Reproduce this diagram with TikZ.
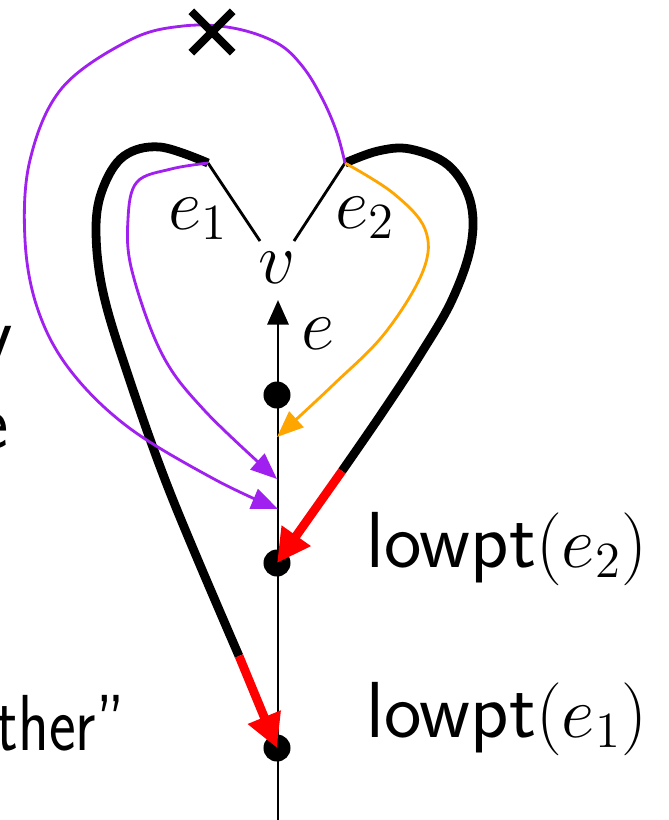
\documentclass[tikz,border=0pt]{standalone}
\usetikzlibrary{arrows.meta}
\definecolor{mypurple}{RGB}{160,32,240}
\definecolor{myorange}{RGB}{255,165,0}
\begin{document}
\begin{tikzpicture}[x=0.01cm,y=-0.01cm,
  heartline/.style={line width=2.5pt},
  redarr/.style={red, line width=2.5pt, -{Triangle[length=9.5pt,width=9.5pt]}},
  parr/.style={mypurple, line width=0.8pt, -{Triangle[length=7.5pt,width=6pt]}},
  oarr/.style={myorange, line width=0.8pt, -{Triangle[length=7.5pt,width=6pt]}},
  thin/.style={line width=0.8pt},
  dot/.style={circle, fill=black, inner sep=0pt, minimum size=0.27cm},
  mlbl/.style={inner sep=0pt, font=\fontsize{22}{26}\selectfont},
  tlbl/.style={inner sep=0pt, font=\fontsize{22.6}{27}\selectfont\sffamily},
  cross/.style={line width=2.3pt}
]
\useasboundingbox (0,0) rectangle (669,820);

% key points
\coordinate (e1t) at (208,163);
\coordinate (e2t) at (345,163);
\coordinate (vl) at (260,241);
\coordinate (vr) at (294,241);
\coordinate (top) at (278,300);
\coordinate (bot) at (278,822);
\coordinate (L1) at (239,656);
\coordinate (R1) at (342,471);
\coordinate (P1) at (277,479);
\coordinate (P2) at (278,509);
\coordinate (O1) at (277,437);

% vertical edge
\draw[thin, -{Triangle[length=7pt,width=6pt]}] (bot) -- (top);

% dots
\node[dot] (d0) at (277,395) {};
\node[dot] (l2) at (277,563) {};
\node[dot] (l1) at (277,748) {};

% edges e1, e2
\draw[thin] (e1t) -- (vl);
\draw[thin] (e2t) -- (vr);

% heart (black thick)
\draw[heartline] plot[smooth, tension=0.6] coordinates {(e1t) (160,147) (124,156) (103,188) (96,229) (103,292) (128,375) (171,495) (L1)};
\draw[heartline] plot[smooth, tension=0.6] coordinates {(e2t) (378,151) (410,149) (448,165) (470,200) (471,245) (452,300) (420,355) (382,413) (R1)};
\draw[redarr] (L1) -- (l1.center);
\draw[redarr] (R1) -- (l2.center);

% purple inner
\draw[parr] plot[smooth, tension=0.6] coordinates {(e1t) (171,169) (137,182) (128,219) (132,271) (162,354) (205,411) (P1)};
% orange
\draw[oarr] plot[smooth, tension=0.6] coordinates {(e2t) (393,193) (425,229) (423,271) (385,333) (333,385) (O1)};
% purple outer
\draw[parr] plot[smooth, tension=0.6] coordinates {(e2t) (337,133) (323,100) (303,67) (277,43) (233,28) (183,26) (130,40) (62,88) (30,160) (25,240) (38,310) (70,370) (128,427) (214,479) (P2)};

% cross
\node[inner sep=0pt, minimum size=0.4cm] (x) at (212,32) {};
\draw[cross] (x.north west) -- (x.south east);
\draw[cross] (x.north east) -- (x.south west);

% labels
\node[mlbl, anchor=base west] (le1) at (168,229) {$e_1$};
\node[mlbl, anchor=base west] (le2) at (335,228) {$e_2$};
\node[mlbl, anchor=base] (lv) at (277,283) {$v$};
\node[mlbl, anchor=base west] (le) at (301,349) {$e$};
\node[tlbl, anchor=base west] (t2) at (366,567) {lowpt$(e_2)$};
\node[tlbl, anchor=base west] (t1) at (366,737) {lowpt$(e_1)$};
\node[tlbl, anchor=base east] (ty) at (14,360) {y};
\node[tlbl, anchor=base east] (te) at (9,448) {e};
\node[tlbl, anchor=base west] (tt) at (-4,750) {\scalebox{0.8}[1]{ther''}};
\end{tikzpicture}
\end{document}
